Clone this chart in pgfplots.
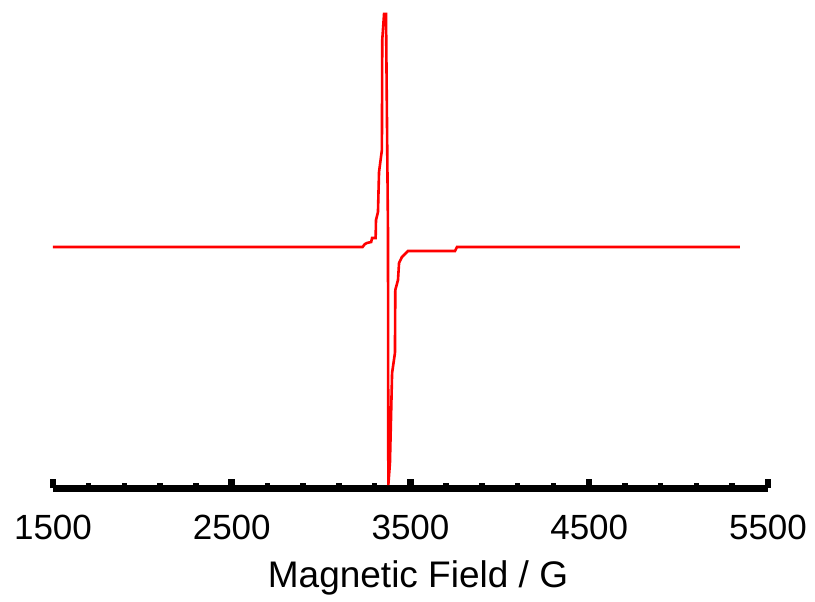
\documentclass[border=0pt]{standalone}
\usepackage{fontspec}
\setmainfont{Liberation Sans}
\usepackage{pgfplots}
\pgfplotsset{compat=1.18}
\begin{document}
\begin{tikzpicture}
\useasboundingbox (-53pt,-113.5pt) rectangle (762pt,488.5pt);
\begin{axis}[
  at={(0,0)}, anchor=south west,
  scale only axis,
  width=715pt, height=488.5pt,
  xmin=1500, xmax=5500,
  ymin=-241.5, ymax=247,
  axis y line=none,
  axis x line=bottom,
  x axis line style={-, line width=7pt, black},
  xtick={1500,2500,3500,4500,5500},
  minor xtick={1700,1900,2100,2300,2700,2900,3100,3300,3700,3900,4100,4300,4700,4900,5100,5300},
  tick align=inside,
  major tick length=9.5pt,
  minor tick length=5.5pt,
  major tick style={line width=6.5pt, black},
  minor tick style={line width=5.5pt, black},
  /pgf/number format/assume math mode=true,
  /pgf/number format/1000 sep={},
  xticklabel style={anchor=base, yshift=-51.5pt, font=\fontsize{35}{40}\selectfont, inner sep=0pt},
  xlabel={Magnetic Field / G},
  xlabel style={at={(axis description cs:0.5,0)}, anchor=base, yshift=-99pt, xshift=7.5pt, font=\fontsize{37}{42}\selectfont, inner sep=0pt},
  clip=false,
]
\addplot[red, line width=2.6pt, line join=miter] coordinates {
(1500,0)
(3232,0)
(3245,3)
(3257,4)
(3280,5)
(3285,9)
(3305,9)
(3307,27)
(3318,35)
(3324,75)
(3340,97)
(3342,207)
(3352,233)
(3363,233)
(3374,17)
(3376,-238)
(3385,-216)
(3397,-126)
(3413,-106)
(3415,-43)
(3430,-33)
(3436,-16)
(3452,-10)
(3486,-4)
(3749,-4)
(3760,0)
(5343,0)
};
\end{axis}
\end{tikzpicture}
\end{document}
